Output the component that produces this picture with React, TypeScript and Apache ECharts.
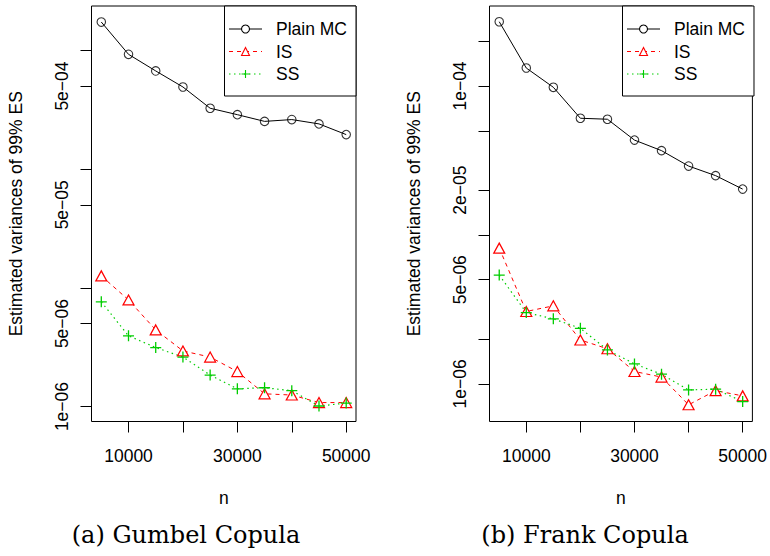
import React, { useEffect, useRef } from "react";
import * as echarts from "echarts";

// ---- data ----
const nValues = [5000, 10000, 15000, 20000, 25000, 30000, 35000, 40000, 45000, 50000];

const gumbelMC = [1.73e-3, 9.25e-4, 6.7e-4, 4.91e-4, 3.25e-4, 2.87e-4, 2.52e-4, 2.61e-4, 2.4e-4, 1.95e-4];
const gumbelIS = [1.26e-5, 7.9e-6, 4.42e-6, 2.94e-6, 2.61e-6, 1.97e-6, 1.28e-6, 1.25e-6, 1.08e-6, 1.08e-6];
const gumbelSS = [7.61e-6, 3.94e-6, 3.14e-6, 2.61e-6, 1.84e-6, 1.41e-6, 1.44e-6, 1.36e-6, 1.01e-6, 1.07e-6];

const frankMC = [2.7e-4, 1.32e-4, 9.8e-5, 6.07e-5, 5.98e-5, 4.33e-5, 3.68e-5, 2.9e-5, 2.5e-5, 2.03e-5];
const frankIS = [8.15e-6, 3.06e-6, 3.34e-6, 1.97e-6, 1.72e-6, 1.21e-6, 1.11e-6, 7.23e-7, 9.0e-7, 8.3e-7];
const frankSS = [5.37e-6, 3.01e-6, 2.73e-6, 2.36e-6, 1.69e-6, 1.36e-6, 1.16e-6, 9.1e-7, 9.2e-7, 7.6e-7];

const xTicks = [10000, 20000, 30000, 40000, 50000];
const xLabels = [10000, 30000, 50000];

const gumbelYTicks = [1e-3, 5e-4, 1e-4, 5e-5, 1e-5, 5e-6, 1e-6];
const gumbelYLabels = [5e-4, 5e-5, 5e-6, 1e-6];
const frankYTicks = [2e-4, 1e-4, 5e-5, 2e-5, 1e-5, 5e-6, 2e-6, 1e-6];
const frankYLabels = [1e-4, 2e-5, 5e-6, 1e-6];

const seriesNames = ["Plain MC", "IS", "SS"];
const captions = ["(a) Gumbel Copula", "(b) Frank Copula"];
const yTitle = "Estimated variances of 99% ES";
const xTitle = "n";

// axis extents (log10 of value) and x range
const gumbelLogRange = [-6.126, -2.627];
const frankLogRange = [-6.253, -3.463];
const xRange = [3200, 51800];

// ---- styles ----
const SANS = '"Liberation Sans", Arial, Helvetica, sans-serif';
const SERIF = '"DejaVu Serif", "Liberation Serif", serif';
const FS = 17.5;
const RED = "#ff0000";
const GREEN = "#00cd00";
const PLUS = "path://M0,5H10M5,0V10";

function fmtSci(v: number): string {
  const e = Math.floor(Math.log10(v) + 1e-9);
  const m = Math.round(v / Math.pow(10, e));
  const sign = e < 0 ? "\u2212" : "+";
  return `${m}e${sign}${String(Math.abs(e)).padStart(2, "0")}`;
}

const textBase = { color: "#000", fontFamily: SANS, fontSize: FS };

export default function App() {
  const ref = useRef<HTMLDivElement>(null);

  useEffect(() => {
    if (!ref.current) return;
    const chart = echarts.init(ref.current, undefined, { renderer: "svg" });

    const panels = [
      { left: 91.5, mc: gumbelMC, is: gumbelIS, ss: gumbelSS, range: gumbelLogRange, ticks: gumbelYTicks, labels: gumbelYLabels, legendRight: 414 },
      { left: 489.5, mc: frankMC, is: frankIS, ss: frankSS, range: frankLogRange, ticks: frankYTicks, labels: frankYLabels, legendRight: 16 },
    ];

    const grid: any[] = [];
    const xAxis: any[] = [];
    const yAxis: any[] = [];
    const series: any[] = [];
    const legend: any[] = [];

    panels.forEach((p, i) => {
      grid.push({
        left: p.left, top: 6, width: 264.5, height: 415.5,
        show: true, borderColor: "#000", borderWidth: 1, backgroundColor: "transparent",
      });
      xAxis.push({
        gridIndex: i, type: "value", min: xRange[0], max: xRange[1],
        axisLine: { show: false, onZero: false },
        splitLine: { show: false },
        axisTick: { show: true, length: 11, lineStyle: { color: "#000", width: 1 }, customValues: xTicks },
        axisLabel: { ...textBase, customValues: xLabels, margin: 25, formatter: (v: number) => String(v) },
        name: xTitle, nameLocation: "middle", nameGap: 67, nameTextStyle: { ...textBase },
      });
      // log axis carrying the data
      yAxis.push({
        gridIndex: i, type: "log", logBase: 10, position: "left", show: false,
        min: Math.pow(10, p.range[0]), max: Math.pow(10, p.range[1]),
        splitLine: { show: false },
      });
      // overlay axis in log10 space for R-style ticks and labels
      yAxis.push({
        gridIndex: i, type: "value", position: "left",
        min: p.range[0], max: p.range[1],
        axisLine: { show: false },
        splitLine: { show: false },
        axisTick: { show: true, length: 11, lineStyle: { color: "#000", width: 1 }, customValues: p.ticks.map(Math.log10) },
        axisLabel: { ...textBase, customValues: p.labels.map(Math.log10), rotate: 90, margin: 21, formatter: (v: number) => fmtSci(Math.pow(10, v)) },
        name: yTitle, nameLocation: "middle", nameGap: 67, nameTextStyle: { ...textBase },
      });
      const yIdx = i * 2;
      const pts = (arr: number[]) => nValues.map((n, k) => [n, arr[k]]);
      series.push({
        type: "line", name: seriesNames[0], xAxisIndex: i, yAxisIndex: yIdx, data: pts(p.mc),
        symbol: "circle", symbolSize: 8, showSymbol: false, silent: true,
        lineStyle: { color: "#000", width: 1 },
        itemStyle: { color: "#fff", borderColor: "#000", borderWidth: 1.1 },
      });
      series.push({
        type: "scatter", name: "mc-gap-" + i, xAxisIndex: i, yAxisIndex: yIdx, data: pts(p.mc),
        symbol: "circle", symbolSize: 15, silent: true, itemStyle: { color: "#fff" },
      });
      series.push({
        type: "scatter", name: "mc-points-" + i, xAxisIndex: i, yAxisIndex: yIdx, data: pts(p.mc),
        symbol: "circle", symbolSize: 8.5, silent: true,
        itemStyle: { color: "#fff", borderColor: "#000", borderWidth: 1.1 },
      });
      series.push({
        type: "line", name: seriesNames[1], xAxisIndex: i, yAxisIndex: yIdx, data: pts(p.is),
        symbol: "triangle", symbolSize: [11, 10], showSymbol: true, showAllSymbol: true, silent: true,
        lineStyle: { color: RED, width: 1, type: [4, 4] },
        itemStyle: { color: "#fff", borderColor: RED, borderWidth: 1.2 },
      });
      series.push({
        type: "line", name: seriesNames[2], xAxisIndex: i, yAxisIndex: yIdx, data: pts(p.ss),
        symbol: PLUS, symbolSize: 11, showSymbol: true, showAllSymbol: true, silent: true,
        lineStyle: { color: GREEN, width: 1.2, type: [1.5, 3.5] },
        itemStyle: { color: "transparent", borderColor: GREEN, borderWidth: 1.3 },
      });
      legend.push({
        orient: "vertical", right: p.legendRight, top: 6,
        data: seriesNames, selectedMode: false,
        itemWidth: 33, itemHeight: 10, itemGap: 4.5,
        padding: [14, 9, 13, 4],
        borderColor: "#000", borderWidth: 1, borderRadius: 0, backgroundColor: "#fff",
        lineStyle: { width: 1 },
        itemStyle: { borderWidth: 1.1 },
        textStyle: { ...textBase, lineHeight: 17, padding: [0, 0, 0, 9] },
      });
    });

    chart.setOption({
      animation: false,
      backgroundColor: "#fff",
      grid, xAxis, yAxis, series, legend,
      graphic: captions.map((c, i) => ({
        type: "text", x: i === 0 ? 186 : 585, y: 535,
        style: { text: c, fill: "#000", font: `24px ${SERIF}`, align: "center", verticalAlign: "middle" },
      })),
    });

    return () => chart.dispose();
  }, []);

  return <div ref={ref} style={{ position: "absolute", left: 0, top: 0, width: 770, height: 556 }} />;
}
